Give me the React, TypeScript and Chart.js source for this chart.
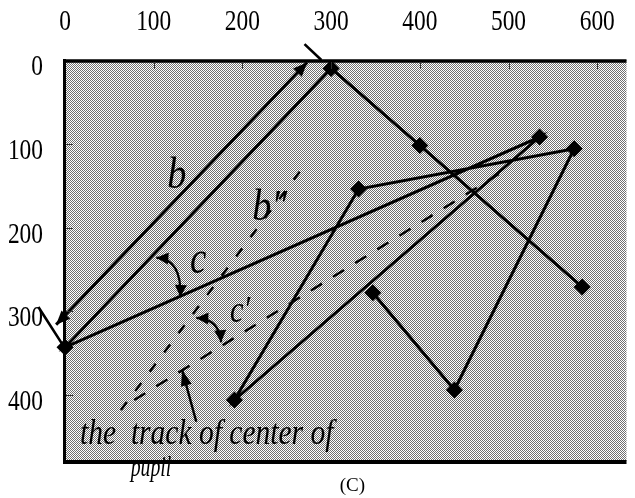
import React, { useEffect, useRef } from "react";
import { Chart, registerables } from "chart.js";

Chart.register(...registerables);

// Fixation path of the gaze, in eye-camera pixels (x right, y down)
const pathX = [583, 400, 300, 0, 535, 191, 331, 574, 439, 347];
const pathY = [271, 102, 10, 343, 92, 406, 154, 106, 394, 278];

// Axis tick values
const xTicks = [0, 100, 200, 300, 400, 500, 600];
const yTicks = [0, 100, 200, 300, 400];

// Dimension arrow "b" and its two extension strokes
const bArrowX = [-10, 273];
const bArrowY = [316, 3];
const bExtTopX = [270, 289];
const bExtTopY = [-19, 0];
const bExtLowX = [-30, -2];
const bExtLowY = [295, 341];

// Dashed tracks of the centre of the pupil (b'' and c')
const trackBX = [63, 272];
const trackBY = [418, 123];
const trackCX = [78, 500];
const trackCY = [406, 129];

// Angle arcs c and c' : start, control, end
const arcCX = [103, 132, 130];
const arcCY = [236, 238, 283];
const arcC2X = [148, 174, 176];
const arcC2Y = [308, 309, 337];

// Pointer to the caption: tail, tip
const pointerX = [148, 132];
const pointerY = [432, 370];

// Text labels: [text, x, y]
const labelText = ["b", "b\u2033", "c", "c\u2032", "the  track of center of", "pupil", "(C)"];
const labelX = [126, 211, 141, 186, 17, 74, 324];
const labelY = [153, 191, 254, 313, 458, 497, 515];

function arrowHead(
  ctx: CanvasRenderingContext2D,
  tipX: number,
  tipY: number,
  fromX: number,
  fromY: number,
  len: number,
  half: number
) {
  const a = Math.atan2(tipY - fromY, tipX - fromX);
  const bx = tipX - len * Math.cos(a);
  const by = tipY - len * Math.sin(a);
  ctx.beginPath();
  ctx.moveTo(tipX, tipY);
  ctx.lineTo(bx + half * Math.sin(a), by - half * Math.cos(a));
  ctx.lineTo(bx - half * Math.sin(a), by + half * Math.cos(a));
  ctx.closePath();
  ctx.fill();
}

function drawText(
  ctx: CanvasRenderingContext2D,
  text: string,
  x: number,
  y: number,
  font: string,
  sx: number,
  align: CanvasTextAlign
) {
  ctx.save();
  ctx.translate(x, y);
  ctx.scale(sx, 1);
  ctx.font = font;
  ctx.textAlign = align;
  ctx.textBaseline = "alphabetic";
  ctx.fillStyle = "#000";
  ctx.fillText(text, 0, 0);
  ctx.restore();
}

function makeStipple(ctx: CanvasRenderingContext2D) {
  const c = document.createElement("canvas");
  c.width = 2;
  c.height = 2;
  const g = c.getContext("2d")!;
  g.fillStyle = "#ffffff";
  g.fillRect(0, 0, 2, 2);
  g.fillStyle = "#707070";
  g.fillRect(0, 0, 1, 1);
  g.fillRect(1, 1, 1, 1);
  return ctx.createPattern(c, "repeat");
}

const stipplePlugin = {
  id: "stippleBackground",
  beforeDatasetsDraw(chart: any) {
    const { ctx, chartArea } = chart;
    ctx.save();
    ctx.fillStyle = makeStipple(ctx) || "#b8b8b8";
    ctx.fillRect(chartArea.left, chartArea.top, chartArea.right - chartArea.left, chartArea.bottom - chartArea.top);
    ctx.restore();
  },
};

const overlayPlugin = {
  id: "overlay",
  afterDatasetsDraw(chart: any) {
    const { ctx, chartArea } = chart;
    const sx = chart.scales.x;
    const sy = chart.scales.y;
    const X = (v: number) => sx.getPixelForValue(v);
    const Y = (v: number) => sy.getPixelForValue(v);

    ctx.save();
    ctx.strokeStyle = "#000";
    ctx.fillStyle = "#000";
    ctx.lineCap = "butt";

    // dashed pupil tracks
    ctx.lineWidth = 2.4;
    ctx.setLineDash([10, 14]);
    ctx.beginPath();
    ctx.moveTo(X(trackBX[0]), Y(trackBY[0]));
    ctx.lineTo(X(trackBX[1]), Y(trackBY[1]));
    ctx.stroke();
    ctx.setLineDash([13, 13]);
    ctx.beginPath();
    ctx.moveTo(X(trackCX[0]), Y(trackCY[0]));
    ctx.lineTo(X(trackCX[1]), Y(trackCY[1]));
    ctx.stroke();
    ctx.setLineDash([]);

    // dimension arrow b
    ctx.lineWidth = 3;
    const ax0 = X(bArrowX[0]), ay0 = Y(bArrowY[0]);
    const ax1 = X(bArrowX[1]), ay1 = Y(bArrowY[1]);
    ctx.beginPath();
    ctx.moveTo(ax0, ay0);
    ctx.lineTo(ax1, ay1);
    ctx.stroke();
    arrowHead(ctx, ax0, ay0, ax1, ay1, 14, 6);
    arrowHead(ctx, ax1, ay1, ax0, ay0, 14, 6);
    ctx.lineWidth = 2.6;
    ctx.beginPath();
    ctx.moveTo(X(bExtTopX[0]), Y(bExtTopY[0]));
    ctx.lineTo(X(bExtTopX[1]), Y(bExtTopY[1]));
    ctx.moveTo(X(bExtLowX[0]), Y(bExtLowY[0]));
    ctx.lineTo(X(bExtLowX[1]), Y(bExtLowY[1]));
    ctx.stroke();

    // angle arcs with arrowheads at both ends
    const arc = (xs: number[], ys: number[]) => {
      const p0x = X(xs[0]), p0y = Y(ys[0]);
      const cx = X(xs[1]), cy = Y(ys[1]);
      const p1x = X(xs[2]), p1y = Y(ys[2]);
      ctx.lineWidth = 2.2;
      ctx.beginPath();
      ctx.moveTo(p0x, p0y);
      ctx.quadraticCurveTo(cx, cy, p1x, p1y);
      ctx.stroke();
      arrowHead(ctx, p0x, p0y, cx, cy, 12, 6);
      arrowHead(ctx, p1x, p1y, cx, cy, 12, 6);
    };
    arc(arcCX, arcCY);
    arc(arcC2X, arcC2Y);

    // pointer from the caption
    const tx = X(pointerX[0]), ty = Y(pointerY[0]);
    const hx = X(pointerX[1]), hy = Y(pointerY[1]);
    ctx.lineWidth = 2.4;
    ctx.beginPath();
    ctx.moveTo(tx, ty);
    ctx.lineTo(hx, hy);
    ctx.stroke();
    arrowHead(ctx, hx, hy, tx, ty, 16, 5.5);

    // frame of the plot area
    ctx.lineWidth = 3.5;
    ctx.beginPath();
    ctx.moveTo(chartArea.left - 2, chartArea.top + 1);
    ctx.lineTo(chartArea.right, chartArea.top + 1);
    ctx.stroke();
    ctx.lineWidth = 3;
    ctx.beginPath();
    ctx.moveTo(chartArea.left - 0.5, chartArea.top - 1);
    ctx.lineTo(chartArea.left - 0.5, chartArea.bottom + 2);
    ctx.stroke();
    ctx.lineWidth = 4;
    ctx.beginPath();
    ctx.moveTo(chartArea.left - 2, chartArea.bottom);
    ctx.lineTo(chartArea.right, chartArea.bottom);
    ctx.stroke();

    // small inner tick marks
    ctx.lineWidth = 1;
    ctx.strokeStyle = "#333";
    ctx.beginPath();
    xTicks.forEach((v) => {
      if (v === 0) return;
      const p = Math.round(X(v)) + 0.5;
      ctx.moveTo(p, chartArea.top + 2);
      ctx.lineTo(p, chartArea.top + 9);
    });
    yTicks.forEach((v) => {
      if (v === 0) return;
      const p = Math.round(Y(v)) + 0.5;
      ctx.moveTo(chartArea.left + 1, p);
      ctx.lineTo(chartArea.left + 8, p);
    });
    ctx.stroke();

    // tick labels
    const tickFont = '30px "Liberation Serif"';
    xTicks.forEach((v) => drawText(ctx, String(v), X(v), chartArea.top - 30, tickFont, 0.78, "center"));
    yTicks.forEach((v) => drawText(ctx, String(v), chartArea.left - 22, Y(v) + 15, tickFont, 0.78, "right"));

    // annotation labels
    const fonts = [
      'italic 45px "Liberation Serif"',
      'italic 45px "Liberation Serif"',
      'italic 46px "Liberation Serif"',
      'italic 38px "Liberation Serif"',
      'italic 36px "Liberation Serif"',
      'italic 30px "Liberation Serif"',
      '19px "Liberation Serif"',
    ];
    const scales = [0.85, 0.85, 0.8, 0.8, 0.82, 0.66, 1];
    const aligns: CanvasTextAlign[] = ["center", "left", "left", "left", "left", "left", "center"];
    labelText.forEach((t, i) =>
      drawText(ctx, t, X(labelX[i]), Y(labelY[i]), fonts[i], scales[i], aligns[i])
    );

    ctx.restore();
  },
};

export default function App() {
  const canvasRef = useRef<HTMLCanvasElement | null>(null);

  useEffect(() => {
    if (!canvasRef.current) return;
    const points = pathX.map((x, i) => ({ x, y: pathY[i] }));
    const chart = new Chart(canvasRef.current, {
      type: "scatter",
      data: {
        datasets: [
          {
            data: points,
            showLine: true,
            borderColor: "#000",
            borderWidth: 3,
            backgroundColor: "#000",
            pointStyle: "rectRot",
            pointRadius: 8.5,
            pointBorderWidth: 0,
            tension: 0,
            clip: false,
          } as any,
        ],
      },
      options: {
        responsive: false,
        animation: false,
        devicePixelRatio: 1,
        layout: { padding: { left: 65, top: 60, right: 0, bottom: 36 } },
        plugins: {
          legend: { display: false },
          tooltip: { enabled: false },
          title: { display: false },
        },
        events: [],
        scales: {
          x: { type: "linear", min: 0, max: 633, display: false },
          y: { type: "linear", min: 0, max: 480, reverse: true, display: false },
        },
      },
      plugins: [stipplePlugin, overlayPlugin],
    });
    return () => chart.destroy();
  }, []);

  return (
    <div style={{ position: "absolute", left: 0, top: 0, width: 635, height: 498, background: "#fff" }}>
      <canvas ref={canvasRef} width={635} height={498} style={{ display: "block" }} />
    </div>
  );
}
